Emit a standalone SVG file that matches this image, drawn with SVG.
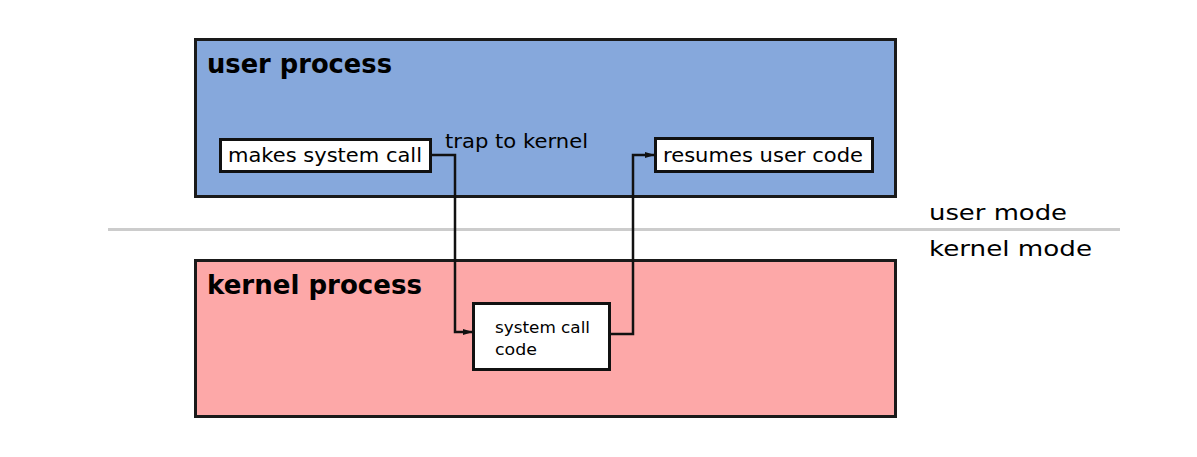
<svg xmlns="http://www.w3.org/2000/svg" width="1197" height="457" viewBox="0 0 1197 457">
<defs>
<marker id="arr" markerWidth="10" markerHeight="8" refX="9" refY="4" orient="auto" markerUnits="userSpaceOnUse">
<path d="M0,1 L10,4 L0,7 Z" fill="#111"/>
</marker>
<style>
text{font-family:"DejaVu Sans","Open Sans",sans-serif;fill:#000}
.title{font-size:27px;font-weight:bold}
.lbl{font-size:19px}
.mode{font-size:22px}
.small{font-size:16px}
.box{fill:#fff;stroke:#111;stroke-width:3}
.conn{fill:none;stroke:#111;stroke-width:2.5}
</style>
</defs>
<rect width="1197" height="457" fill="#fff"/>
<line x1="108" y1="229.5" x2="1120" y2="229.5" stroke="#cccccc" stroke-width="3"/>
<text class="mode" x="929" y="220" textLength="138" lengthAdjust="spacingAndGlyphs">user mode</text>
<text class="mode" x="929" y="256" textLength="163" lengthAdjust="spacingAndGlyphs">kernel mode</text>
<g id="user-process">
<rect x="195.5" y="39.5" width="700" height="157" fill="#86a8dc" stroke="#1a1a1a" stroke-width="3"/>
<text class="title" x="207" y="73" textLength="185" lengthAdjust="spacingAndGlyphs">user process</text>
</g>
<g id="kernel-process">
<rect x="195.5" y="260.5" width="700" height="156" fill="#fda8a8" stroke="#1a1a1a" stroke-width="3"/>
<text class="title" x="207" y="294" textLength="215" lengthAdjust="spacingAndGlyphs">kernel process</text>
</g>
<g id="makes-system-call">
<rect class="box" x="220.5" y="139.5" width="210" height="32"/>
<text class="lbl" x="228" y="162" textLength="194" lengthAdjust="spacingAndGlyphs">makes system call</text>
</g>
<g id="resumes-user-code">
<rect class="box" x="655.5" y="138.5" width="217" height="33"/>
<text class="lbl" x="663" y="162" textLength="200" lengthAdjust="spacingAndGlyphs">resumes user code</text>
</g>
<g id="system-call-code">
<rect class="box" x="473.5" y="303.5" width="136" height="66"/>
<text class="small" x="495" y="333" textLength="95" lengthAdjust="spacingAndGlyphs">system call</text>
<text class="small" x="495" y="355" textLength="42" lengthAdjust="spacingAndGlyphs">code</text>
</g>
<g id="connectors">
<path class="conn" d="M430,155 H455 V332 H472" marker-end="url(#arr)"/>
<path class="conn" d="M609,334 H633 V155 H654" marker-end="url(#arr)"/>
<text class="lbl" x="445" y="148" textLength="143" lengthAdjust="spacingAndGlyphs">trap to kernel</text>
</g>
</svg>
